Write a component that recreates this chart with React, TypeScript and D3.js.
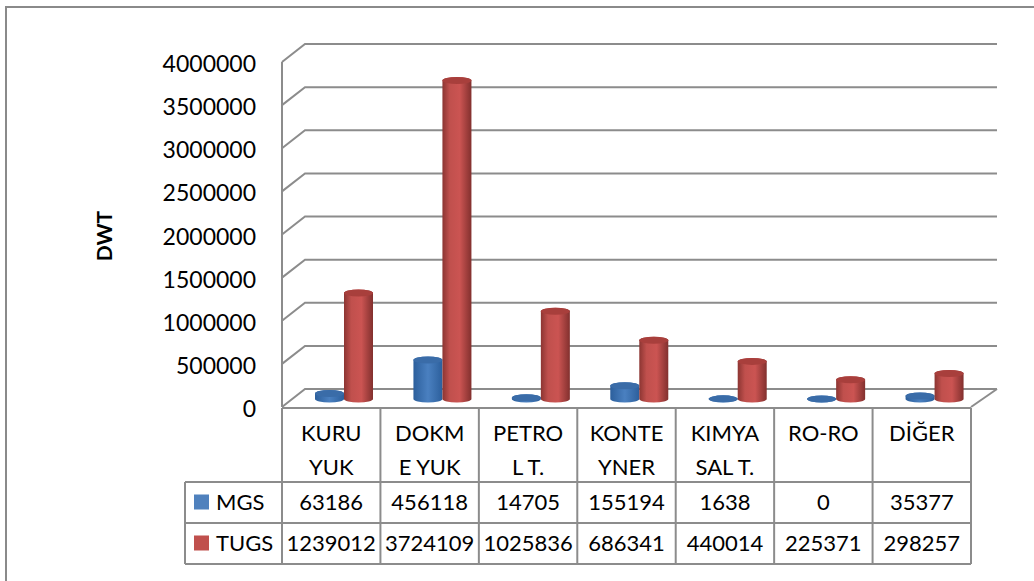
import React from "react";
import { scaleBand, scaleLinear } from "d3";

const categories = ["KURU YUK", "DOKME YUK", "PETROL T.", "KONTEYNER", "KIMYASAL T.", "RO-RO", "DİĞER"];
const categoryLines = [["KURU", "YUK"], ["DOKM", "E YUK"], ["PETRO", "L T."], ["KONTE", "YNER"], ["KIMYA", "SAL T."], ["RO-RO"], ["DİĞER"]];
const seriesNames = ["MGS", "TUGS"];
const mgs = [63186, 456118, 14705, 155194, 1638, 0, 35377];
const tugs = [1239012, 3724109, 1025836, 686341, 440014, 225371, 298257];
const ticks = [0, 500000, 1000000, 1500000, 2000000, 2500000, 3000000, 3500000, 4000000];

const seriesColors = ["#4f81bd", "#c0504d"];
const gridColor = "#8c8c8c";
const font = "Lato, Carlito, sans-serif";

const tableLeft = 185;
const plotLeft = 282;
const plotRight = 971;
const backLeft = 305;
const backRight = 997;
const depthY = 18;
const rowY = [408, 482, 523, 564];

const App = () => {
  const x = scaleBand<string>().domain(categories).range([plotLeft, plotRight]);
  const y = scaleLinear().domain([0, 4000000]).range([407, 62]);
  const barY = scaleLinear().domain([0, 4000000]).range([399, 57]);
  const barX = scaleBand<string>().domain(seriesNames).range([0, 58]);
  const barOffset = 33;
  const rx = barX.bandwidth() / 2;
  const ry = 3.5;

  const cylinder = (cat: string, name: string, value: number, i: number) => {
    const left = x(cat)! + barOffset + barX(name)!;
    const right = left + barX.bandwidth();
    const base = barY(0);
    const top = barY(value);
    const side = `M${left},${top}L${left},${base}A${rx},${ry} 0 0 0 ${right},${base}L${right},${top}A${rx},${ry} 0 0 0 ${left},${top}Z`;
    return (
      <g key={cat + name}>
        <path d={side} fill={`url(#grad${i})`} />
        <ellipse cx={left + rx} cy={top} rx={rx} ry={ry} fill={i === 0 ? "#3a6ca8" : "#a83f3c"} />
      </g>
    );
  };

  return (
    <svg width={1034} height={581} style={{ position: "absolute", left: 0, top: 0 }}>
      <defs>
        <linearGradient id="grad0">
          <stop offset="0" stopColor="#2c5f9c" />
          <stop offset="0.5" stopColor="#4a80c0" />
          <stop offset="1" stopColor="#2c5f9c" />
        </linearGradient>
        <linearGradient id="grad1">
          <stop offset="0" stopColor="#8c3532" />
          <stop offset="0.25" stopColor="#c0504d" />
          <stop offset="0.6" stopColor="#cb5452" />
          <stop offset="1" stopColor="#82302e" />
        </linearGradient>
      </defs>
      <line x1={5} x2={1034} y1={7} y2={7} stroke="#8a8a8a" strokeWidth={2} />
      <line x1={6} x2={6} y1={6} y2={581} stroke="#8a8a8a" strokeWidth={2} />

      {ticks.map((t) => (
        <polyline
          key={t}
          points={`${plotLeft},${y(t)} ${backLeft},${y(t) - depthY} ${backRight},${y(t) - depthY}`}
          stroke={gridColor}
          strokeWidth={2}
          fill="none"
        />
      ))}
      <line x1={plotLeft} x2={plotLeft} y1={y(4000000)} y2={y(0)} stroke={gridColor} strokeWidth={2} />
      <line x1={plotRight} x2={backRight} y1={y(0)} y2={y(0) - depthY} stroke={gridColor} strokeWidth={2} />

      {ticks.map((t) => (
        <text key={t} x={256} y={y(t) + 2} dy="0.35em" textAnchor="end" fontFamily={font} fontSize={23} fill="#000">
          {t}
        </text>
      ))}
      <text transform="translate(112,236) rotate(-90)" textAnchor="middle" fontFamily={font} fontSize={21} fontWeight={700} fill="#000">
        DWT
      </text>

      {categories.map((c, k) => cylinder(c, seriesNames[0], mgs[k], 0))}
      {categories.map((c, k) => cylinder(c, seriesNames[1], tugs[k], 1))}

      <g stroke={gridColor} strokeWidth={2} fill="none">
        <line x1={plotLeft} x2={plotRight} y1={rowY[0]} y2={rowY[0]} />
        <line x1={tableLeft} x2={plotRight} y1={rowY[1]} y2={rowY[1]} />
        <line x1={tableLeft} x2={plotRight} y1={rowY[2]} y2={rowY[2]} />
        <line x1={tableLeft} x2={plotRight} y1={rowY[3]} y2={rowY[3]} />
        <line x1={tableLeft} x2={tableLeft} y1={rowY[1]} y2={rowY[3]} />
        {categories.map((c) => (
          <line key={c} x1={x(c)} x2={x(c)} y1={rowY[0]} y2={rowY[3]} />
        ))}
        <line x1={plotRight} x2={plotRight} y1={rowY[0]} y2={rowY[3]} />
      </g>

      {categories.map((c, k) => (
        <g key={c} fontFamily={font} fontSize={22} fill="#000" textAnchor="middle">
          {categoryLines[k].map((line, j) => (
            <text key={line} x={x(c)! + x.bandwidth() / 2} y={433 + j * 34} dy="0.35em">
              {line}
            </text>
          ))}
          <text x={x(c)! + x.bandwidth() / 2} y={(rowY[1] + rowY[2]) / 2} dy="0.35em">{mgs[k]}</text>
          <text x={x(c)! + x.bandwidth() / 2} y={(rowY[2] + rowY[3]) / 2} dy="0.35em">{tugs[k]}</text>
        </g>
      ))}

      {seriesNames.map((name, i) => (
        <g key={name}>
          <rect x={194} y={rowY[i + 1] + 12.5} width={15} height={15} fill={seriesColors[i]} />
          <text x={216} y={(rowY[i + 1] + rowY[i + 2]) / 2} dy="0.35em" fontFamily={font} fontSize={22} fill="#000">
            {name}
          </text>
        </g>
      ))}
    </svg>
  );
};

export default App;
